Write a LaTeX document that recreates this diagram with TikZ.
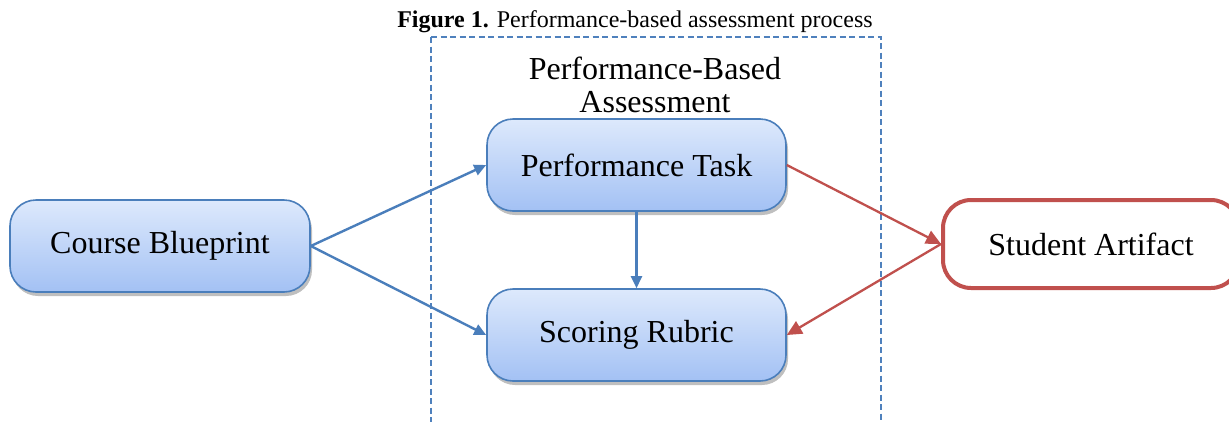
\documentclass[tikz,border=0pt]{standalone}
\usepackage{fontspec}
\setmainfont{Liberation Serif}
\usetikzlibrary{arrows.meta,shadows}
\definecolor{boxtop}{RGB}{221,233,252}
\definecolor{boxbot}{RGB}{163,193,244}
\definecolor{boxline}{RGB}{74,126,187}
\definecolor{arrblue}{RGB}{74,126,187}
\definecolor{arrred}{RGB}{192,80,77}
\definecolor{dashblue}{RGB}{79,129,189}
\tikzset{
  bluebox/.style={draw=boxline, line width=1.6pt, rounded corners=26pt,
    top color=boxtop, bottom color=boxbot, minimum width=299pt, minimum height=92pt,
    inner sep=0pt, font=\fontsize{32}{36}\selectfont,
    drop shadow={shadow xshift=2pt, shadow yshift=-4pt, opacity=0.25, fill=black}},
  redbox/.style={draw=arrred, line width=4pt, rounded corners=28pt, fill=white,
    minimum width=296pt, minimum height=88pt, inner sep=0pt, font=\fontsize{32}{36}\selectfont},
  bluearrow/.style={draw=arrblue, line width=2.4pt, -{Triangle[length=12pt,width=11pt]}},
  redarrow/.style={draw=arrred, line width=2.3pt, -{Triangle[length=15pt,width=14pt]}},
  dashframe/.style={draw=dashblue, line width=1.1pt, dash pattern=on 6pt off 3.5pt},
}
\begin{document}
\begin{tikzpicture}[x=1pt,y=-1pt]
\useasboundingbox (0,0) rectangle (1229,421);
\clip (0,0) rectangle (1229,421);
\fill[white] (0,0) rectangle (1229,421);
\draw[dashframe] (431,37) -- (881,37) -- (881,440) (431,37) -- (431,440);
\node[font=\fontsize{24}{26}\selectfont] (title) at (635,22) {\textbf{Figure 1.} Performance-based assessment process};
\node[font=\fontsize{32}{32.5}\selectfont, align=center] (pba) at (655,85) {Performance-Based\\Assessment};
\node[bluebox, minimum width=300pt] (cb) at (160,246) {Course Blueprint};
\node[bluebox] (pt) at (636.5,165) {Performance Task};
\node[bluebox] (sr) at (636.5,335) {Scoring Rubric};
\node[redbox] (sa) at (1091,244) {Student Artifact};
\draw[bluearrow] (cb.east) -- (pt.west);
\draw[bluearrow] (cb.east) -- (sr.west);
\draw[bluearrow] (pt.south) -- (sr.north);
\draw[redarrow] (pt.east) -- (sa.west);
\draw[redarrow] (sa.west) -- (sr.east);
\end{tikzpicture}
\end{document}
